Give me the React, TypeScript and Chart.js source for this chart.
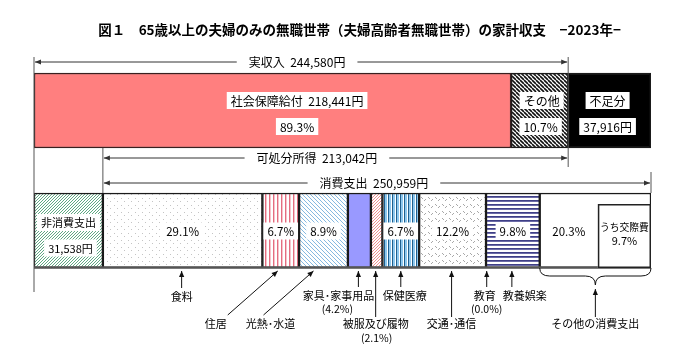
import React, { useEffect, useRef } from "react";
import { Chart, registerables } from "chart.js";

Chart.register(...registerables);

const TITLE = "図１　65歳以上の夫婦のみの無職世帯（夫婦高齢者無職世帯）の家計収支　−2023年−";
const ROWS = ["収入", "支出"];

// Income row (yen per month)
const INCOME_ITEMS = ["社会保障給付", "その他", "不足分"];
const INCOME_YEN = [218441, 26139, 37916];
const INCOME_PCT = [89.3, 10.7];
const ACTUAL_INCOME = 244580;
const DISPOSABLE_INCOME = 213042;

// Expenditure row
const NON_CONSUMPTION = 31538;
const CONSUMPTION = 250959;
const CONS_ITEMS = [
  "食料",
  "住居",
  "光熱･水道",
  "家具･家事用品",
  "被服及び履物",
  "保健医療",
  "交通･通信",
  "教育",
  "教養娯楽",
  "その他の消費支出",
];
const CONS_PCT = [29.1, 6.7, 8.9, 4.2, 2.1, 6.7, 12.2, 0.0, 9.8, 20.3];
// Items whose share is printed under the callout instead of inside the bar
const CONS_PCT_BELOW = [false, false, false, true, true, false, false, true, false, false];
const SOCIAL_PCT = 9.7; // うち交際費 (part of その他の消費支出)

const FAMILY = '"Noto Sans CJK JP", "Noto Sans", sans-serif';
const font = (size: number, weight = "normal") => `${weight} ${size}px ${FAMILY}`;
const yen = (v: number) => v.toLocaleString("en-US") + "円";
const pct = (v: number) => v.toFixed(1) + "%";
const INK = "#000";
const LABEL_SIZE = 12;
const SMALL_SIZE = 11;

function tile(w: number, h: number, draw: (g: CanvasRenderingContext2D) => void) {
  const c = document.createElement("canvas");
  c.width = w;
  c.height = h;
  const g = c.getContext("2d")!;
  draw(g);
  return g.createPattern(c, "repeat")!;
}

function diag(bg: string, fg: string, size: number, lw: number, dir: "/" | "\\") {
  return tile(size, size, (g) => {
    g.fillStyle = bg;
    g.fillRect(0, 0, size, size);
    g.strokeStyle = fg;
    g.lineWidth = lw;
    g.beginPath();
    for (let k = -1; k <= 1; k++) {
      if (dir === "/") {
        g.moveTo(k * size, size);
        g.lineTo(k * size + size, 0);
      } else {
        g.moveTo(k * size, 0);
        g.lineTo(k * size + size, size);
      }
    }
    g.stroke();
  });
}

function vstripes(cols: string[]) {
  return tile(cols.length, 1, (g) => {
    cols.forEach((c, i) => {
      g.fillStyle = c;
      g.fillRect(i, 0, 1, 1);
    });
  });
}

function hstripes(rows: string[]) {
  return tile(1, rows.length, (g) => {
    rows.forEach((c, i) => {
      g.fillStyle = c;
      g.fillRect(0, i, 1, 1);
    });
  });
}

function dots(size: number, color: string, pts: [number, number][]) {
  return tile(size, size, (g) => {
    g.fillStyle = "#fff";
    g.fillRect(0, 0, size, size);
    g.fillStyle = color;
    pts.forEach(([x, y]) => g.fillRect(x, y, 1, 1));
  });
}

function arrowHead(ctx: CanvasRenderingContext2D, x1: number, y1: number, x2: number, y2: number) {
  const a = Math.atan2(y2 - y1, x2 - x1);
  const len = 6;
  const hw = 2.6;
  ctx.beginPath();
  ctx.moveTo(x2, y2);
  ctx.lineTo(x2 - len * Math.cos(a) + hw * Math.sin(a), y2 - len * Math.sin(a) - hw * Math.cos(a));
  ctx.lineTo(x2 - len * Math.cos(a) - hw * Math.sin(a), y2 - len * Math.sin(a) + hw * Math.cos(a));
  ctx.closePath();
  ctx.fill();
}

function arrow(ctx: CanvasRenderingContext2D, x1: number, y1: number, x2: number, y2: number) {
  ctx.beginPath();
  ctx.moveTo(x1, y1);
  ctx.lineTo(x2, y2);
  ctx.stroke();
  arrowHead(ctx, x1, y1, x2, y2);
}

function line(ctx: CanvasRenderingContext2D, x1: number, y1: number, x2: number, y2: number) {
  ctx.beginPath();
  ctx.moveTo(x1, y1);
  ctx.lineTo(x2, y2);
  ctx.stroke();
}

function boxText(ctx: CanvasRenderingContext2D, text: string, cx: number, cy: number, size = LABEL_SIZE) {
  ctx.font = font(size);
  const w = ctx.measureText(text).width;
  ctx.fillStyle = "#fff";
  ctx.fillRect(cx - w / 2 - 4, cy - 8.5, w + 8, 17);
  ctx.fillStyle = INK;
  ctx.textAlign = "center";
  ctx.textBaseline = "middle";
  ctx.fillText(text, cx, cy + 0.5);
}

function plainText(ctx: CanvasRenderingContext2D, text: string, cx: number, cy: number, size = LABEL_SIZE) {
  ctx.font = font(size);
  ctx.fillStyle = INK;
  ctx.textAlign = "center";
  ctx.textBaseline = "middle";
  ctx.fillText(text, cx, cy);
}

// Horizontal span arrow with a centered caption: ←── caption ──→
function spanArrow(ctx: CanvasRenderingContext2D, xa: number, xb: number, y: number, caption: string, cx: number) {
  ctx.font = font(LABEL_SIZE);
  const w = ctx.measureText(caption).width;
  const gap = 12;
  ctx.strokeStyle = "#333";
  ctx.fillStyle = "#333";
  ctx.lineWidth = 1;
  arrow(ctx, cx - w / 2 - gap, y, xa + 1, y);
  arrow(ctx, cx + w / 2 + gap, y, xb - 1, y);
  plainText(ctx, caption, cx, y);
}

const annotate = {
  id: "annotate",
  afterDatasetsDraw(chart: any) {
    const ctx: CanvasRenderingContext2D = chart.ctx;
    const xs = chart.scales.x;
    const px = (v: number) => xs.getPixelForValue(v);
    const el = (ds: number, row: number) => chart.getDatasetMeta(ds).data[row] as any;

    const r0 = el(0, 0);
    const top0 = r0.y - r0.height / 2;
    const bot0 = r0.y + r0.height / 2;
    const r1 = el(3, 1);
    const top1 = r1.y - r1.height / 2;
    const bot1 = r1.y + r1.height / 2;

    const x0 = px(0);
    const xInc = px(ACTUAL_INCOME);
    const xNon = px(NON_CONSUMPTION);
    const xEnd = px(NON_CONSUMPTION + CONSUMPTION);

    ctx.save();

    // Title
    ctx.font = font(13.5, "bold");
    ctx.fillStyle = INK;
    ctx.textAlign = "center";
    ctx.textBaseline = "middle";
    ctx.fillText(TITLE, chart.width / 2 + 21, 30);

    // Guide lines
    ctx.strokeStyle = "#555";
    ctx.lineWidth = 1;
    line(ctx, x0, top0 - 16, x0, bot1 + 24);
    line(ctx, xInc, top0 - 16, xInc, bot0 + 19);
    line(ctx, xNon, bot0, xNon, top1);
    line(ctx, xEnd, top1 - 21, xEnd, top1);

    // Heavier base line under the expenditure row
    ctx.strokeStyle = "#555";
    ctx.lineWidth = 2.5;
    line(ctx, x0, bot1 - 0.5, xEnd, bot1 - 0.5);

    // Span arrows
    spanArrow(ctx, x0, xInc, top0 - 11, "実収入  " + yen(ACTUAL_INCOME), (x0 + xInc) / 2 - 4);
    spanArrow(ctx, xNon, xInc, bot0 + 10, "可処分所得  " + yen(DISPOSABLE_INCOME), xNon + 0.46 * (xInc - xNon));
    spanArrow(ctx, xNon, xEnd, top1 - 10, "消費支出  " + yen(CONSUMPTION), (xNon + xEnd) / 2 - 3);

    // Income row labels
    const c0 = r0.y;
    boxText(ctx, INCOME_ITEMS[0] + "  " + yen(INCOME_YEN[0]), (x0 + xInc) / 2 - 4, c0 - 10);
    boxText(ctx, pct(INCOME_PCT[0]), (x0 + xInc) / 2 - 4, c0 + 16);
    const r0b = el(1, 0);
    boxText(ctx, INCOME_ITEMS[1], (r0b.x + r0b.base) / 2 + 2, c0 - 10);
    boxText(ctx, pct(INCOME_PCT[1]), (r0b.x + r0b.base) / 2 + 1, c0 + 16);
    const r0c = el(2, 0);
    boxText(ctx, INCOME_ITEMS[2], (r0c.x + r0c.base) / 2 - 2, c0 - 10);
    boxText(ctx, yen(INCOME_YEN[2]), (r0c.x + r0c.base) / 2 - 2, c0 + 16);

    // Expenditure row labels
    const c1 = r1.y;
    boxText(ctx, "非消費支出", (r1.x + r1.base) / 2, c1 - 8, SMALL_SIZE);
    boxText(ctx, yen(NON_CONSUMPTION), (r1.x + r1.base) / 2 + 2, c1 + 17.5, SMALL_SIZE);

    // Nested box: うち交際費
    const xSoc = px(NON_CONSUMPTION + CONSUMPTION * (1 - SOCIAL_PCT / 100));
    ctx.fillStyle = "#fff";
    ctx.fillRect(xSoc, top1 + 11, xEnd - xSoc, bot1 - top1 - 11);
    ctx.strokeStyle = "#222";
    ctx.lineWidth = 1.5;
    ctx.strokeRect(xSoc + 0.75, top1 + 11.75, xEnd - xSoc - 1.5, bot1 - top1 - 12.5);
    plainText(ctx, "うち交際費", (xSoc + xEnd) / 2, top1 + 34, 9.8);
    plainText(ctx, pct(SOCIAL_PCT), (xSoc + xEnd) / 2, top1 + 48, SMALL_SIZE);

    const mid = (i: number) => {
      const e = el(4 + i, 1);
      return (e.x + e.base) / 2;
    };
    CONS_PCT.forEach((p, i) => {
      if (CONS_PCT_BELOW[i]) return;
      let cx = mid(i);
      if (i === CONS_ITEMS.length - 1) cx = (el(4 + i, 1).base + xSoc) / 2;
      boxText(ctx, pct(p), cx, c1 + 0.5, 11.5);
    });

    // Callouts below the expenditure row
    const tipY = bot1 + 3;
    const call = (i: number, dx: number, tail: [number, number], lab: [number, number], sub?: [number, number]) => {
      const tx = mid(i) + dx;
      ctx.strokeStyle = "#111";
      ctx.fillStyle = "#111";
      ctx.lineWidth = 1;
      arrow(ctx, tx + tail[0], bot1 + tail[1], tx, tipY);
      plainText(ctx, CONS_ITEMS[i], tx + lab[0], bot1 + lab[1], SMALL_SIZE);
      if (sub) plainText(ctx, "(" + pct(CONS_PCT[i]) + ")", tx + sub[0], bot1 + sub[1], 10.5);
    };
    call(0, -1, [0, 20], [0, 29]);
    call(1, -3, [-50, 47], [-62, 55.5]);
    call(2, -10, [-50, 47], [-43, 55.5]);
    call(3, -1, [0, 19], [-20, 28], [-21, 41.5]);
    call(4, -1, [0, 49], [0, 56], [1, 70.5]);
    call(5, 0, [0, 19], [4, 28]);
    call(6, -1, [0, 49], [0, 55.5]);
    call(7, 0.7, [0, 19], [-2, 28], [0, 41.5]);
    call(8, -1, [0, 19], [13, 28]);

    // Brace over その他の消費支出
    const last = el(4 + CONS_ITEMS.length - 1, 1);
    const bx0 = last.base;
    const bx1 = last.x;
    const bm = (bx0 + bx1) / 2;
    const by = bot1 + 8;
    ctx.strokeStyle = "#111";
    ctx.lineWidth = 1;
    ctx.beginPath();
    ctx.moveTo(bx0, bot1);
    ctx.quadraticCurveTo(bx0, by, bx0 + 10, by);
    ctx.lineTo(bm - 10, by);
    ctx.quadraticCurveTo(bm, by, bm, bot1 + 17);
    ctx.quadraticCurveTo(bm, by, bm + 10, by);
    ctx.lineTo(bx1 - 10, by);
    ctx.quadraticCurveTo(bx1, by, bx1, bot1);
    ctx.stroke();
    ctx.fillStyle = "#111";
    arrow(ctx, bm, bot1 + 49, bm, bot1 + 21);
    plainText(ctx, CONS_ITEMS[CONS_ITEMS.length - 1], bm, bot1 + 55.5, SMALL_SIZE);

    ctx.restore();
  },
};

export default function App() {
  const ref = useRef<HTMLCanvasElement>(null);

  useEffect(() => {
    if (!ref.current) return;

    const incomeFills: (string | CanvasPattern)[] = [
      "#ff7f7f",
      diag("#ffffff", "#111111", 4, 1.6, "\\"),
      "#000000",
    ];
    const nonConsFill = diag("#ffffff", "#5fa883", 3, 1, "/");
    const consFills: (string | CanvasPattern)[] = [
      dots(7, "#c4c4c4", [[2, 2], [5, 5]]),
      vstripes(["#ffffff", "#e46d80", "#f7c3cb", "#ffffff"]),
      diag("#ffffff", "#86b9e0", 4, 1, "\\"),
      "#9999ff",
      diag("#ffffff", "#ef8f8f", 3, 1, "/"),
      vstripes(["#1f5f8e", "#8ec8ee", "#8ec8ee", "#ffffff"]),
      dots(7, "#a8a8a8", [[1, 1], [2, 2], [4, 4], [5, 3]]),
      "#ffffff",
      hstripes(["#3f3f86", "#6a6aa6", "#ffffff", "#ffffff"]),
      "#ffffff",
    ];

    const common = {
      borderColor: "#1a1a1a",
      borderWidth: 1.5,
      borderSkipped: false,
      barThickness: 75,
    };
    const consYen = CONS_PCT.map((p) => (CONSUMPTION * p) / 100);
    const xMax = Math.max(
      INCOME_YEN.reduce((a, b) => a + b, 0),
      NON_CONSUMPTION + CONSUMPTION
    );

    const datasets: any[] = [
      ...INCOME_ITEMS.map((label, i) => ({
        ...common,
        label,
        data: [INCOME_YEN[i], null],
        backgroundColor: incomeFills[i],
        borderColor: i === 0 ? "#3a2020" : "#1a1a1a",
      })),
      { ...common, label: "非消費支出", data: [null, NON_CONSUMPTION], backgroundColor: nonConsFill },
      ...CONS_ITEMS.map((label, i) => ({
        ...common,
        label,
        data: [null, consYen[i]],
        backgroundColor: consFills[i],
      })),
    ];

    const chart = new Chart(ref.current, {
      type: "bar",
      data: { labels: ROWS, datasets },
      options: {
        indexAxis: "y",
        responsive: false,
        animation: false,
        layout: { padding: { left: 34, right: 26, top: 50.5, bottom: 59.5 } },
        scales: {
          x: { type: "linear", stacked: true, min: 0, max: xMax, display: false },
          y: { type: "category", stacked: true, display: false },
        },
        plugins: {
          legend: { display: false },
          tooltip: { enabled: false },
          title: { display: false },
        },
      },
      plugins: [annotate],
    } as any);

    return () => chart.destroy();
  }, []);

  return (
    <div style={{ position: "absolute", left: 0, top: 0, width: 677, height: 350, background: "#fff" }}>
      <canvas ref={ref} width={677} height={350} />
    </div>
  );
}
